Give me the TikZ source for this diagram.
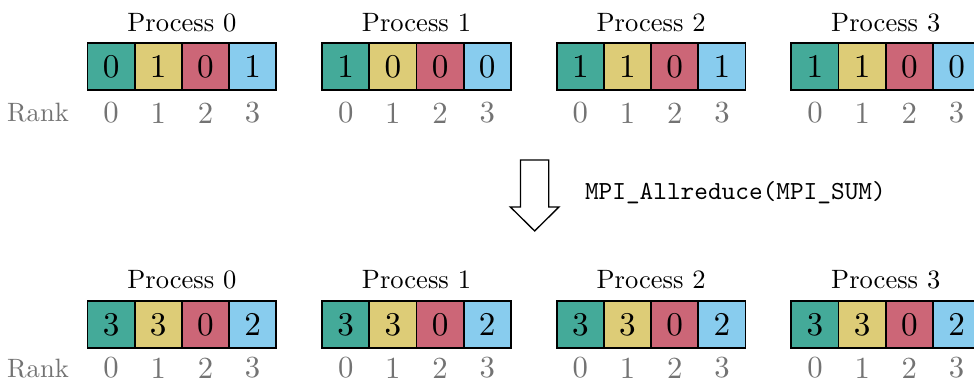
\documentclass[tikz,border=0pt]{standalone}
\usepackage{graphicx}
\usepackage{tikz}
\usetikzlibrary{positioning}

\definecolor{rank0}{HTML}{44AA99}
\definecolor{rank1}{HTML}{DDCC77}
\definecolor{rank2}{HTML}{CC6677}
\definecolor{rank3}{HTML}{88CCEE}

\newcommand{\cellnum}[1]{\scalebox{2.0}{#1}}
\newcommand{\ranknum}[1]{\scalebox{1.85}{#1}}
\newcommand{\rankword}[1]{\scalebox{1.6}{#1}}
\newcommand{\proctext}[1]{\scalebox{1.6}{#1}}
\newcommand{\optext}[1]{\scalebox{1.57}{\ttfamily #1}}

\tikzset{
    cell/.style={draw, line width=1.1pt, minimum size=1cm, inner sep=0pt, font=\normalsize},
    ranklabel/.style={text=black!55, inner sep=0pt, font=\normalsize},
    proclabel/.style={inner sep=0pt, font=\normalsize},
    bigarrow/.style={draw, line width=0.8pt, fill=white}
}

\begin{document}
\begin{tikzpicture}
    \useasboundingbox (0,0) rectangle (20.64,-8.16);
    \clip (0,0) rectangle (20.64,-8.16);

    % before the reduction
    \node[ranklabel] (ranktop) at (0.805,-2.394) {\rankword{Rank}};
    \foreach \p/\vals in {0/{0,1,0,1},1/{1,0,0,0},2/{1,1,0,1},3/{1,1,0,0}} {
        \node[proclabel] (ptop\p) at (3.854+4.972*\p,-0.487) {\proctext{Process \p}};
        \foreach \v [count=\j from 0] in \vals {
            \node[cell, fill=rank\j] (top\p\j) at (2.354+4.972*\p+\j,-1.413) {\cellnum{\v}};
            \node[ranklabel] (rtop\p\j) at (2.354+4.972*\p+\j,-2.394) {\ranknum{\j}};
        }
    }

    \draw[bigarrow] (11.03,-3.39) -- (11.63,-3.39) -- (11.63,-4.386) -- (11.845,-4.386)
        -- (11.33,-4.894) -- (10.815,-4.386) -- (11.03,-4.386) -- cycle;
    \node[inner sep=0pt, anchor=west] (op) at (12.39,-4.09) {\optext{MPI\_Allreduce(MPI\_SUM)}};

    % after the reduction
    \node[ranklabel] (rankbot) at (0.805,-7.8) {\rankword{Rank}};
    \foreach \p in {0,...,3} {
        \node[proclabel] (pbot\p) at (3.854+4.972*\p,-5.93) {\proctext{Process \p}};
        \foreach \v [count=\j from 0] in {3,3,0,2} {
            \node[cell, fill=rank\j] (bot\p\j) at (2.354+4.972*\p+\j,-6.875) {\cellnum{\v}};
            \node[ranklabel] (rbot\p\j) at (2.354+4.972*\p+\j,-7.8) {\ranknum{\j}};
        }
    }
\end{tikzpicture}
\end{document}
